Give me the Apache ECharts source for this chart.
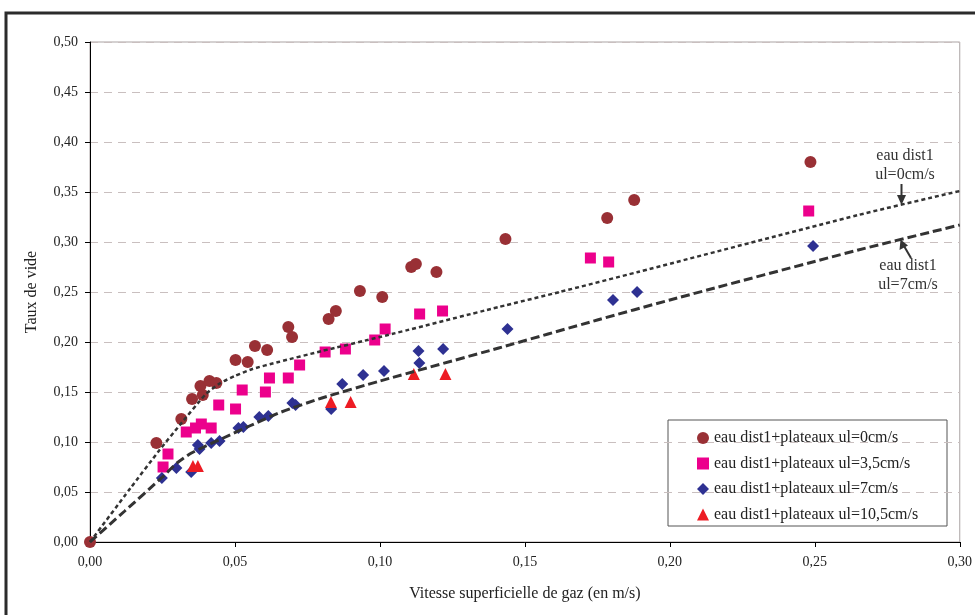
<!DOCTYPE html>
<html>
<head>
<meta charset="utf-8">
<script src="https://cdn.jsdelivr.net/npm/echarts@6/dist/echarts.min.js"></script>
<style>
html,body{margin:0;padding:0;background:#fff;}
#chart{width:975px;height:615px;}
</style>
</head>
<body>
<div id="chart"></div>
<script>
// ---- Data ----
const seriesNames = [
  'eau dist1+plateaux ul=0cm/s',
  'eau dist1+plateaux ul=3,5cm/s',
  'eau dist1+plateaux ul=7cm/s',
  'eau dist1+plateaux ul=10,5cm/s'
];
const ul0 = [
  [0,0],[0.0229,0.099],[0.0315,0.123],[0.0352,0.143],[0.0381,0.156],[0.0389,0.147],
  [0.0412,0.161],[0.0436,0.159],[0.0502,0.182],[0.0544,0.180],[0.0569,0.196],[0.0611,0.192],
  [0.0684,0.215],[0.0697,0.205],[0.0823,0.223],[0.0848,0.231],[0.0931,0.251],[0.1008,0.245],
  [0.1108,0.275],[0.1124,0.278],[0.1195,0.270],[0.1433,0.303],[0.1784,0.324],[0.1877,0.342],
  [0.2485,0.380]
];
const ul35 = [
  [0.0252,0.075],[0.0269,0.088],[0.0332,0.110],[0.0364,0.114],[0.0384,0.118],[0.0418,0.114],
  [0.0444,0.137],[0.0502,0.133],[0.0525,0.152],[0.0605,0.150],[0.0619,0.164],[0.0684,0.164],
  [0.0723,0.177],[0.0811,0.190],[0.0881,0.193],[0.0982,0.202],[0.1018,0.213],[0.1137,0.228],
  [0.1216,0.231],[0.1726,0.284],[0.1789,0.280],[0.2479,0.331]
];
const ul7 = [
  [0.0248,0.064],[0.0298,0.074],[0.0349,0.070],[0.0372,0.097],[0.0378,0.093],[0.0418,0.099],
  [0.0447,0.101],[0.0512,0.114],[0.0529,0.115],[0.0584,0.125],[0.0615,0.126],[0.0698,0.139],
  [0.0709,0.137],[0.0832,0.133],[0.0870,0.158],[0.0942,0.167],[0.1014,0.171],[0.1133,0.191],
  [0.1136,0.179],[0.1218,0.193],[0.1440,0.213],[0.1804,0.242],[0.1887,0.250],[0.2494,0.296]
];
const ul105 = [
  [0.0355,0.076],[0.0372,0.076],[0.0831,0.140],[0.0899,0.140],[0.1117,0.168],[0.1226,0.168]
];
// model curves (eau dist1)
const curveUl0 = [
  [0,0],[0.014,0.054],[0.024,0.092],[0.031,0.117],[0.040,0.148],[0.045,0.159],[0.050,0.166],
  [0.056,0.173],[0.065,0.180],[0.08,0.191],[0.10,0.205],[0.141,0.235],[0.162,0.250],
  [0.189,0.270],[0.265,0.327],[0.30,0.351]
];
const curveUl7 = [
  [0,0],[0.012,0.031],[0.025,0.065],[0.030,0.079],[0.035,0.089],[0.046,0.104],[0.055,0.116],
  [0.066,0.130],[0.08,0.144],[0.10,0.161],[0.141,0.194],[0.175,0.222],[0.20,0.242],
  [0.265,0.292],[0.30,0.317]
];
const xTitle = 'Vitesse superficielle de gaz (en m/s)';
const yTitle = 'Taux de vide';
const annot0 = ['eau dist1', 'ul=0cm/s'];
const annot7 = ['eau dist1', 'ul=7cm/s'];

// ---- Chart ----
const FONT = '"Liberation Serif", "Times New Roman", serif';
const fmt = v => v.toFixed(2).replace('.', ',');
const chart = echarts.init(document.getElementById('chart'), null, {renderer: 'canvas'});

const markerStyle = [
  {symbol: 'circle', size: 12, color: '#993035'},
  {symbol: 'rect', size: 11, color: '#ec008c'},
  {symbol: 'diamond', size: 12, color: '#2e3192'},
  {symbol: 'triangle', size: 12, color: '#ed1c24'}
];
const scatterData = [ul0, ul35, ul7, ul105];

const option = {
  backgroundColor: '#ffffff',
  animation: false,
  grid: {left: 90, right: 12, top: 42, bottom: 73, show: true, borderColor: '#aaa3a3', borderWidth: 1, backgroundColor: 'transparent'},
  xAxis: {
    type: 'value', min: 0, max: 0.3, interval: 0.05,
    name: xTitle, nameLocation: 'middle', nameGap: 44,
    nameTextStyle: {fontFamily: FONT, fontSize: 16, color: '#222'},
    axisLine: {show: true, lineStyle: {color: '#000', width: 1}},
    axisTick: {show: true, inside: false, length: 5, lineStyle: {color: '#000'}},
    axisLabel: {formatter: fmt, fontFamily: FONT, fontSize: 14, color: '#222', margin: 13},
    splitLine: {show: false}
  },
  yAxis: {
    type: 'value', min: 0, max: 0.5, interval: 0.05,
    name: yTitle, nameLocation: 'middle', nameGap: 50, nameRotate: 90,
    nameTextStyle: {fontFamily: FONT, fontSize: 16, color: '#222'},
    axisLine: {show: true, lineStyle: {color: '#000', width: 1}},
    axisTick: {show: true, inside: false, length: 5, lineStyle: {color: '#000'}},
    axisLabel: {formatter: fmt, fontFamily: FONT, fontSize: 14, color: '#222', margin: 12},
    splitLine: {show: true, lineStyle: {color: '#c9bfbf', type: [8, 6], width: 1}}
  },
  legend: {
    data: seriesNames,
    orient: 'vertical',
    left: 697, top: 430,
    itemWidth: 12, itemHeight: 12, itemGap: 9.5,
    padding: 0,
    textStyle: {fontFamily: FONT, fontSize: 16, color: '#222'},
    selectedMode: false
  },
  series: [
    ...seriesNames.map((n, i) => ({
      name: n, type: 'scatter', data: scatterData[i],
      symbol: markerStyle[i].symbol, symbolSize: markerStyle[i].size,
      itemStyle: {color: markerStyle[i].color, opacity: 1}, z: 5
    })),
    {
      name: 'curve ul0', type: 'line', data: curveUl0, showSymbol: false, symbol: 'none',
      smooth: 0.2, lineStyle: {color: '#333', width: 2.5, type: [4, 3]}, z: 6, silent: true
    },
    {
      name: 'curve ul7', type: 'line', data: curveUl7, showSymbol: false, symbol: 'none',
      smooth: 0.2, lineStyle: {color: '#333', width: 3, type: [9, 4]}, z: 6, silent: true
    }
  ],
  graphic: [
    {type: 'rect', shape: {x: 6, y: 13, width: 1000, height: 700}, style: {fill: 'none', stroke: '#2b2b2b', lineWidth: 3}, z: 100, silent: true},
    {type: 'rect', shape: {x: 668, y: 420, width: 279, height: 106}, style: {fill: '#fff', stroke: '#555', lineWidth: 1}, z: 0, silent: true},
    {type: 'text', x: 905, y: 156, style: {text: annot0[0], fontFamily: FONT, fontSize: 16, fill: '#333', align: 'center', verticalAlign: 'middle'}, z: 50},
    {type: 'text', x: 905, y: 175, style: {text: annot0[1], fontFamily: FONT, fontSize: 16, fill: '#333', align: 'center', verticalAlign: 'middle'}, z: 50},
    {type: 'line', shape: {x1: 901.5, y1: 184, x2: 901.5, y2: 197}, style: {stroke: '#333', lineWidth: 2}, z: 50},
    {type: 'polygon', shape: {points: [[897, 195], [906, 195], [901.5, 205]]}, style: {fill: '#333'}, z: 50},
    {type: 'text', x: 908, y: 266, style: {text: annot7[0], fontFamily: FONT, fontSize: 16, fill: '#333', align: 'center', verticalAlign: 'middle'}, z: 50},
    {type: 'text', x: 908, y: 285, style: {text: annot7[1], fontFamily: FONT, fontSize: 16, fill: '#333', align: 'center', verticalAlign: 'middle'}, z: 50},
    {type: 'line', shape: {x1: 911, y1: 258, x2: 904, y2: 246}, style: {stroke: '#333', lineWidth: 2}, z: 50},
    {type: 'polygon', shape: {points: [[900.5, 239.5], [899.5, 250], [908, 245.5]]}, style: {fill: '#333'}, z: 50}
  ]
};
chart.setOption(option);
</script>
</body>
</html>
